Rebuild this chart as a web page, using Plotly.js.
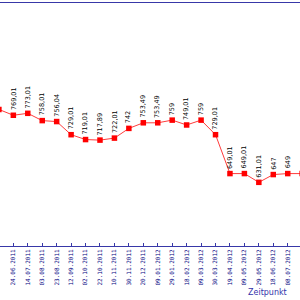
<!DOCTYPE html>
<html><head><meta charset="utf-8">
<script src="https://cdn.plot.ly/plotly-3.0.1.min.js"></script>
<style>html,body{margin:0;padding:0;background:#fff}#chart{width:300px;height:300px}</style>
</head><body><div id="chart"></div>
<script>
const dates = ["04.06.2011","24.06.2011","14.07.2011","03.08.2011","23.08.2011","12.09.2011","02.10.2011","22.10.2011","10.11.2011","30.11.2011","20.12.2011","09.01.2012","29.01.2012","18.02.2012","09.03.2012","30.03.2012","19.04.2012","09.05.2012","29.05.2012","18.06.2012","08.07.2012","28.07.2012"];
const prices = [781.01,769.01,773.01,758.01,756.04,729.01,719.01,717.89,722.01,742,753.49,753.49,759,749.01,759,729.01,649.01,649.01,631.01,647,649,649];
const labels = prices.map(v => String(v).replace('.', ','));

const trace = {
  x: dates, y: prices, type: 'scatter', mode: 'lines+markers',
  line: {color: '#ff3b3b', width: 1},
  marker: {symbol: 'square', size: 5.5, color: '#ff0000'},
  hoverinfo: 'none'
};

const annotations = dates.map((d, i) => ({
  x: d, y: prices[i], xref: 'x', yref: 'y', text: labels[i],
  showarrow: false, textangle: -90, xanchor: 'center', yanchor: 'bottom',
  yshift: 4, borderpad: 0,
  font: {family: 'DejaVu Sans', size: 6.5, color: '#000000'}
}));
annotations.push({
  xref: 'paper', yref: 'paper', x: 0.89, y: -0.193, text: 'Zeitpunkt',
  showarrow: false, xanchor: 'center', yanchor: 'middle', borderpad: 0,
  font: {family: 'DejaVu Sans', size: 8, color: '#3333aa'}
});

const layout = {
  width: 300, height: 300,
  margin: {l: 0, r: 0, t: 3, b: 54},
  paper_bgcolor: '#ffffff', plot_bgcolor: '#ffffff',
  showlegend: false,
  xaxis: {
    type: 'category', range: [0.076, 20.85],
    showline: true, linecolor: '#3838a8', linewidth: 1, mirror: true,
    ticks: 'inside', ticklen: 3, tickcolor: '#3838a8', tickwidth: 1,
    tickangle: -90, showgrid: false, zeroline: false,
    tickfont: {family: 'DejaVu Sans Mono', size: 6, color: '#000080'}
  },
  yaxis: {range: [500, 1000], visible: false, showgrid: false, zeroline: false},
  annotations: annotations
};

Plotly.newPlot('chart', [trace], layout, {staticPlot: true, displayModeBar: false});
</script>
</body></html>
